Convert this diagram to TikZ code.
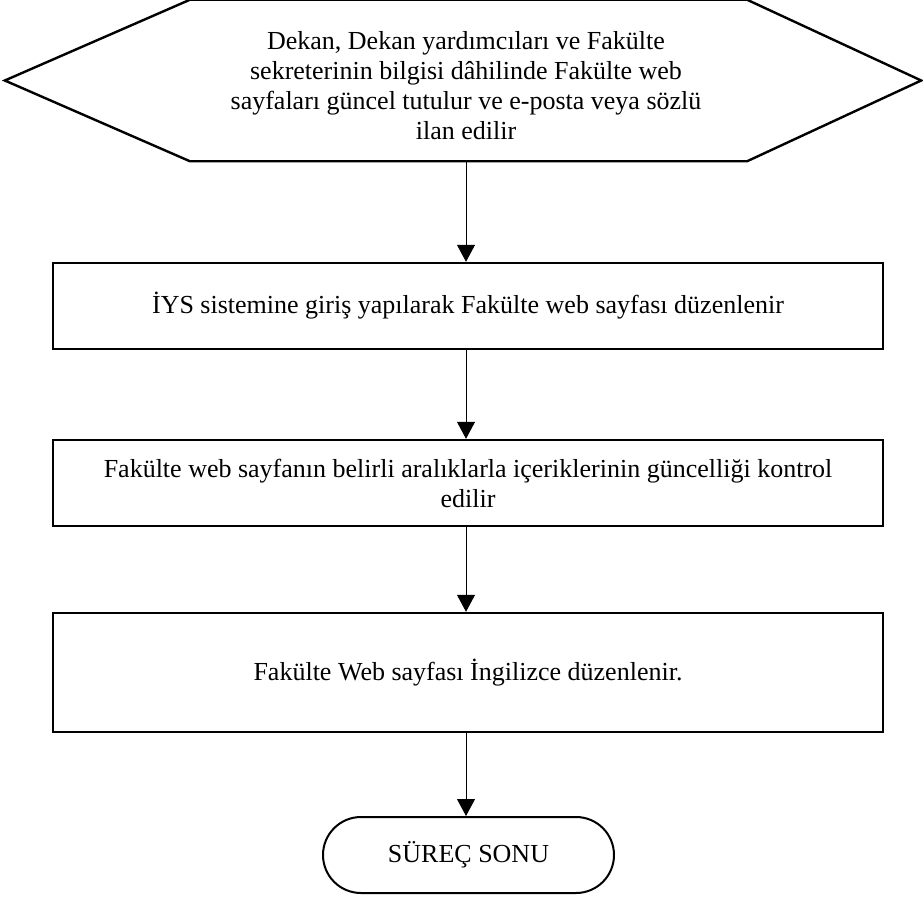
\documentclass[tikz,border=0pt]{standalone}
\usepackage{fontspec}
\setmainfont{Liberation Serif}
\usetikzlibrary{arrows.meta,calc}
\begin{document}
\begin{tikzpicture}[x=1pt,y=1pt,
  txt/.style={font=\fontsize{26}{30}\selectfont, align=center, inner sep=0pt},
  stepbox/.style={draw, line width=2.4pt, inner sep=0pt},
  conn/.style={line width=1pt, -{Triangle[width=18pt,length=17pt]}},
  endbox/.style={draw, line width=2pt, rounded corners=38pt, inner sep=0pt}
]
\useasboundingbox (0,0) rectangle (923,-899);
% hexagon
\node (hex) [minimum width=916pt, minimum height=161pt, inner sep=0pt] at (463,-80.5) {};
\draw[line width=2.4pt, line join=miter] (hex.west) -- ($(hex.north west)+(185,0)$) -- ($(hex.north east)+(-174,0)$) -- (hex.east) -- ($(hex.south east)+(-174,0)$) -- ($(hex.south west)+(185,0)$) -- cycle;
\node[txt] (hext) at (466,-86) {Dekan, Dekan yardımcıları ve Fakülte\\sekreterinin bilgisi dâhilinde Fakülte web\\sayfaları güncel tutulur ve e-posta veya sözlü\\ilan edilir};
% boxes
\node[stepbox, minimum width=830pt, minimum height=86pt] (b1) at (468,-306) {};
\node[txt] at (b1) {İYS sistemine giriş yapılarak Fakülte web sayfası düzenlenir};
\node[stepbox, minimum width=830pt, minimum height=86pt] (b2) at (468,-483) {};
\node[txt] at (b2) {Fakülte web sayfanın belirli aralıklarla içeriklerinin güncelliği kontrol\\edilir};
\node[stepbox, minimum width=830pt, minimum height=119pt] (b3) at (468,-672.5) {};
\node[txt] at (b3) {Fakülte Web sayfası İngilizce düzenlenir.};
\node[endbox, minimum width=291pt, minimum height=76pt] (end) at (468.5,-855) {};
\node[txt] at (end) {SÜREÇ SONU};
% connectors
\coordinate (x1) at (466,-161);
\draw[conn] (x1) -- (x1 |- b1.north);
\draw[conn] (b1.south -| x1) -- (b2.north -| x1);
\draw[conn] (b2.south -| x1) -- (b3.north -| x1);
\draw[conn] (b3.south -| x1) -- (end.north -| x1);
\end{tikzpicture}
\end{document}
